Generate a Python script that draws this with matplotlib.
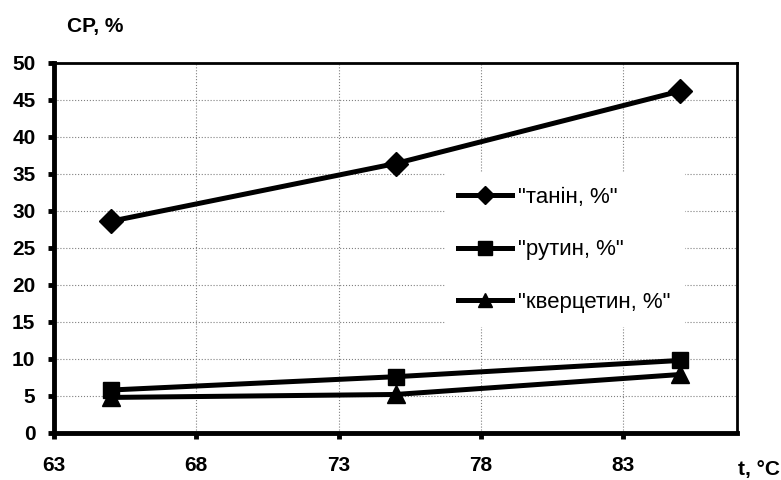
import matplotlib
matplotlib.use('Agg')
import matplotlib.pyplot as plt

plt.rcParams['font.family'] = ['Liberation Sans', 'DejaVu Sans']

temps = [65, 75, 85]
tannin = [28.6, 36.4, 46.2]
rutin = [5.8, 7.6, 9.8]
quercetin = [4.8, 5.2, 7.9]

series = [
    ('"танін, %"', tannin, 'D', 12),
    ('"рутин, %"', rutin, 's', 12),
    ('"кверцетин, %"', quercetin, '^', 13),
]

x_ticks = [63, 68, 73, 78, 83]
y_ticks = [0, 5, 10, 15, 20, 25, 30, 35, 40, 45, 50]

fig = plt.figure(figsize=(7.81, 4.8), dpi=100)
ax = fig.add_axes([0.069, 0.098, 0.875, 0.771])

for label, vals, marker, ms in series:
    ax.plot(temps, vals, color='black', linewidth=3.6, marker=marker,
            markersize=ms, label=label, zorder=3, clip_on=False)

ax.set_xlim(63, 87)
ax.set_ylim(0, 50)
ax.set_xticks(x_ticks)
ax.set_yticks(y_ticks)

ax.grid(True, color='#808080', linestyle=':', linewidth=0.8)
ax.set_axisbelow(True)

for side in ['top', 'right']:
    ax.spines[side].set_linewidth(2)
for side in ['left', 'bottom']:
    ax.spines[side].set_linewidth(3.5)

ax.tick_params(axis='both', direction='out', length=4.3, width=3.5,
               labelsize=15)
ax.tick_params(axis='x', pad=12)
ax.tick_params(axis='y', pad=9)
for lbl in ax.get_xticklabels() + ax.get_yticklabels():
    lbl.set_fontweight('bold')

fig.text(0.086, 0.944, 'CP, %', fontsize=15, fontweight='bold',
         ha='left', va='center')
fig.text(0.999, 0.0104, 't, °C', fontsize=15, fontweight='bold',
         ha='right', va='baseline')

leg = ax.legend(loc='upper left', bbox_to_anchor=(0.556, 0.732),
                frameon=True, fontsize=16, handlelength=2.4,
                labelspacing=1.43, handletextpad=0.3, borderpad=0.6,
                markerscale=0.8, fancybox=False)
leg.get_frame().set_edgecolor('white')
leg.get_frame().set_facecolor('white')
leg.get_frame().set_alpha(1)

fig.savefig('out.png', dpi=100)
plt.close(fig)
